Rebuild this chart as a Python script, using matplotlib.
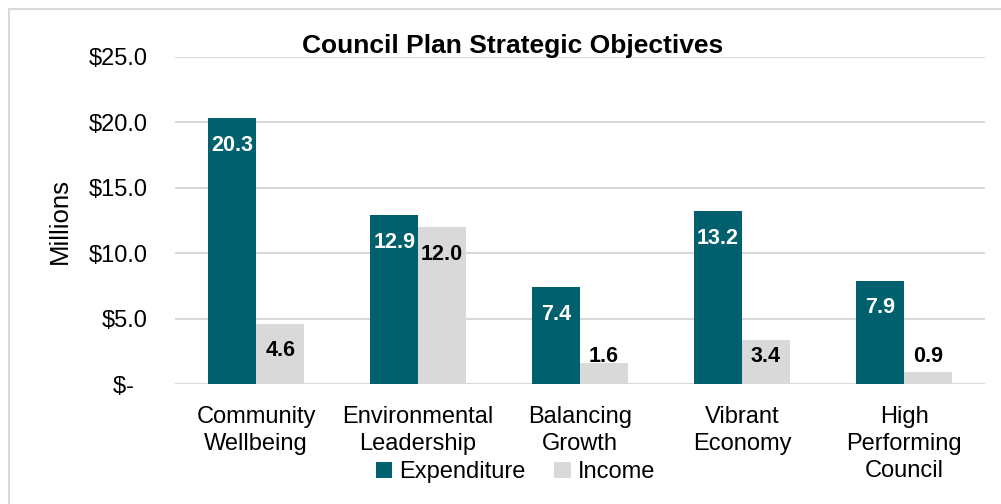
import matplotlib
matplotlib.use("Agg")
import matplotlib.pyplot as plt
from matplotlib.patches import Rectangle
import numpy as np

plt.rcParams['font.family'] = ['Liberation Sans', 'DejaVu Sans']

categories = ["Community\nWellbeing", "Environmental\nLeadership", "Balancing\nGrowth",
              "Vibrant\nEconomy", "High\nPerforming\nCouncil"]
expenditure = [20.3, 12.9, 7.4, 13.2, 7.9]
income = [4.6, 12.0, 1.6, 3.4, 0.9]
y_ticks = [0, 5, 10, 15, 20, 25]
y_tick_labels = ["$-  ", "$5.0", "$10.0", "$15.0", "$20.0", "$25.0"]

teal = "#00606E"
grey = "#D9D9D9"

fig = plt.figure(figsize=(10.01, 5.04), dpi=100)
ax = fig.add_axes([0.175, 0.238, 0.809, 0.649])

# outer chart frame
fig.patches.append(Rectangle((9 / 1001, -0.1), 1.2, 1 - 9 / 504 + 0.1,
                             transform=fig.transFigure, fill=False,
                             edgecolor="#D9D9D9", linewidth=1.5))

x = np.arange(len(categories))
w = 0.296
b1 = ax.bar(x - w / 2, expenditure, w, color=teal, label="Expenditure", zorder=3)
b2 = ax.bar(x + w / 2, income, w, color=grey, label="Income", zorder=3)

label_drop = 2.07
for xi, v in zip(x, expenditure):
    ax.text(xi - w / 2, max(v - label_drop, label_drop), f"{v:.1f}", ha="center", va="center",
            color="white", fontsize=15.5, fontweight="bold", zorder=4)
for xi, v in zip(x, income):
    ax.text(xi + w / 2, max(v - label_drop, label_drop), f"{v:.1f}", ha="center", va="center",
            color="black", fontsize=15.5, fontweight="bold", zorder=4)

ax.set_xlim(-0.5, len(categories) - 0.5)
ax.set_ylim(0, 25)
ax.set_yticks(y_ticks)
ax.set_yticklabels(y_tick_labels, fontsize=17)
ax.set_xticks(x)
ax.set_xticklabels(categories, fontsize=17, linespacing=1.3, va="top")
ax.tick_params(axis="both", length=0)
ax.tick_params(axis="y", pad=20)
ax.tick_params(axis="x", pad=16)
ax.grid(axis="y", color="#D9D9D9", linewidth=1.5, zorder=0)
for s in ax.spines.values():
    s.set_visible(False)

ax.set_ylabel("Millions", fontsize=18.5)
ax.yaxis.set_label_coords(-0.127, 0.5)

fig.text(0.512, 0.908, "Council Plan Strategic Objectives", ha="center", va="center",
         fontsize=19, fontweight="bold")

fig.legend(handles=[b1, b2], loc="center", bbox_to_anchor=(0.515, 0.063), ncol=2,
           frameon=False, fontsize=17, handlelength=0.7, handleheight=0.7,
           handletextpad=0.3, columnspacing=1.2, borderaxespad=0)

fig.savefig("out.png", dpi=100)
